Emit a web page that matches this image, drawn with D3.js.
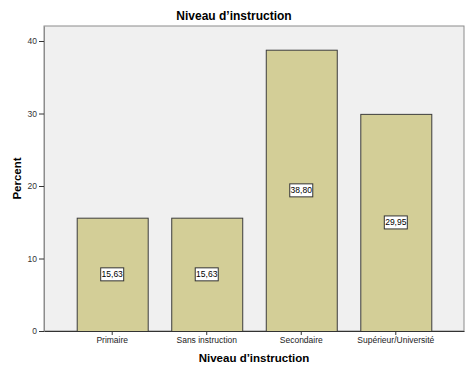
<!DOCTYPE html>
<html>
<head>
<meta charset="utf-8">
<script src="https://cdn.jsdelivr.net/npm/d3@7"></script>
<style>
  body { margin: 0; background: #fff; }
  svg { display: block; font-family: "Liberation Sans", Arial, sans-serif; }
</style>
</head>
<body>
<div id="chart"></div>
<script>
const categories = ["Primaire", "Sans instruction", "Secondaire", "Supérieur/Université"];
const percents = [15.63, 15.63, 38.80, 29.95];
const valueLabels = ["15,63", "15,63", "38,80", "29,95"];
const yTicks = [0, 10, 20, 30, 40];

const W = 469, H = 375;
const plot = { left: 44, top: 26, right: 464, bottom: 331 };

const svg = d3.select("#chart").append("svg").attr("width", W).attr("height", H);

const x = d3.scaleBand().domain(categories)
  .range([plot.left, plot.right]).paddingInner(0.249).paddingOuter(0.346);
const y = d3.scaleLinear().domain([0, 42.07]).range([plot.bottom, plot.top]);

// plot background
svg.append("rect")
  .attr("x", plot.left).attr("y", plot.top)
  .attr("width", plot.right - plot.left).attr("height", plot.bottom - plot.top)
  .attr("fill", "#f0f0f0").attr("stroke", "#8c8c8c").attr("stroke-width", 1);

// bars
svg.selectAll(".bar").data(percents).join("rect")
  .attr("class", "bar")
  .attr("x", (d, i) => x(categories[i]) + 0.5)
  .attr("y", d => y(d) + 0.5)
  .attr("width", x.bandwidth())
  .attr("height", d => plot.bottom - y(d))
  .attr("fill", "#d3ce97").attr("stroke", "#3c3c3c").attr("stroke-width", 1);

// value labels
const lab = svg.selectAll(".val").data(percents).join("g")
  .attr("class", "val")
  .attr("transform", (d, i) => `translate(${x(categories[i]) + x.bandwidth() / 2},${(y(d) + plot.bottom) / 2})`);
lab.append("rect")
  .attr("x", -11.5).attr("y", -6.5).attr("width", 23).attr("height", 13)
  .attr("fill", "#fff").attr("stroke", "#333").attr("stroke-width", 1);
lab.append("text")
  .attr("text-anchor", "middle").attr("dy", "0.35em")
  .attr("font-size", "8.5px").attr("fill", "#000")
  .text((d, i) => valueLabels[i]);

// y axis
const ya = svg.append("g").attr("transform", `translate(${plot.left},0)`)
  .call(d3.axisLeft(y).tickValues(yTicks).tickSize(5).tickSizeOuter(0).tickPadding(2));
ya.select(".domain").attr("stroke", "#8c8c8c");
ya.selectAll(".tick line").attr("stroke", "#333");
ya.selectAll(".tick text").attr("font-size", "8.5px").attr("fill", "#333")
  .attr("font-family", "Liberation Sans, Arial, sans-serif");

// x axis
const xa = svg.append("g").attr("transform", `translate(0,${plot.bottom})`)
  .call(d3.axisBottom(x).tickSize(4).tickSizeOuter(0).tickPadding(2));
xa.select(".domain").attr("stroke", "#333");
xa.selectAll(".tick line").attr("stroke", "#333");
xa.selectAll(".tick text").attr("font-size", "8.5px").attr("fill", "#222")
  .attr("font-family", "Liberation Sans, Arial, sans-serif");

// titles
svg.append("text").attr("x", 234).attr("y", 20)
  .attr("text-anchor", "middle").attr("font-size", "12px").attr("font-weight", "bold")
  .text("Niveau d’instruction");
svg.append("text").attr("x", (plot.left + plot.right) / 2).attr("y", 362)
  .attr("text-anchor", "middle").attr("font-size", "11.5px").attr("font-weight", "bold")
  .text("Niveau d’instruction");
svg.append("text")
  .attr("transform", `translate(21,${(plot.top + plot.bottom) / 2}) rotate(-90)`)
  .attr("text-anchor", "middle").attr("font-size", "11.5px").attr("font-weight", "bold")
  .text("Percent");
</script>
</body>
</html>
